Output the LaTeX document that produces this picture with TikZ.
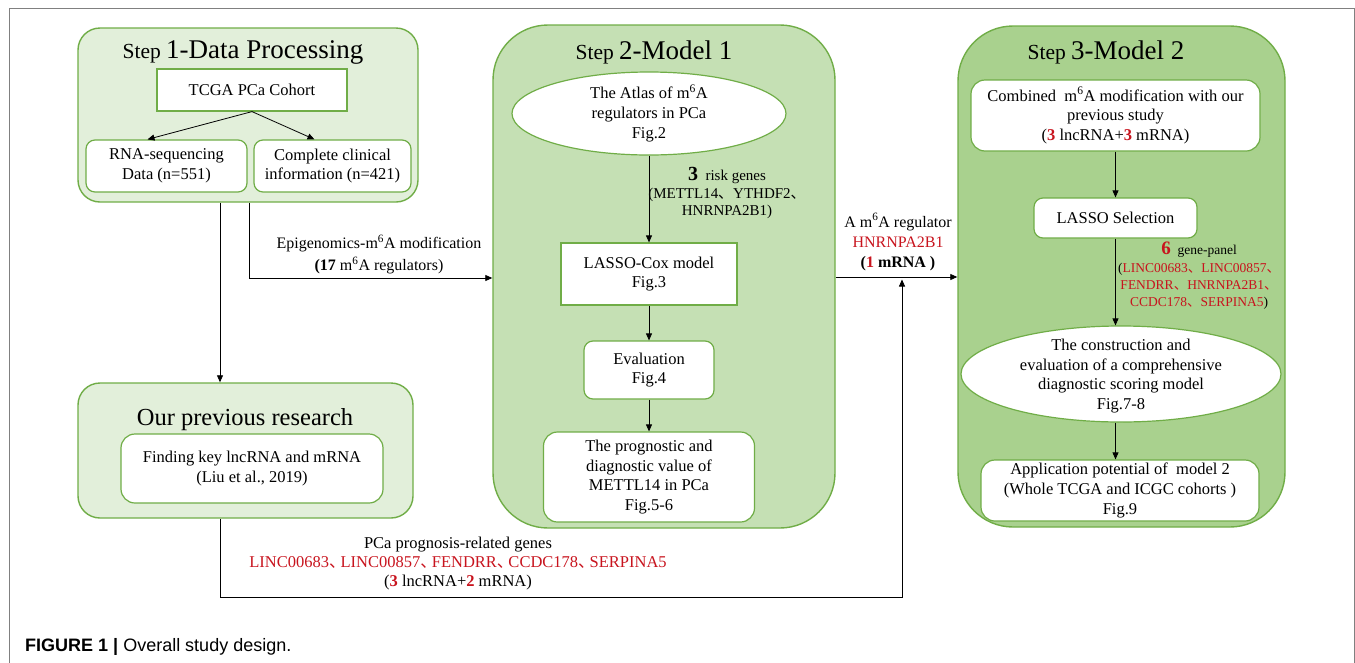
\documentclass[tikz,border=0pt]{standalone}
\usepackage{fontspec}
\setmainfont{Liberation Serif}
\newfontfamily\capfont{Liberation Sans}
\newfontfamily\cjkfont{Noto Sans CJK SC}
\usetikzlibrary{shapes.geometric,arrows.meta}
\definecolor{gborder}{RGB}{112,173,71}
\definecolor{fillA}{RGB}{226,239,218}
\definecolor{fillB}{RGB}{197,224,180}
\definecolor{fillC}{RGB}{169,209,142}
\definecolor{txtred}{RGB}{200,20,30}
\definecolor{framegray}{RGB}{128,128,128}
\newcommand{\dn}{\makebox[1em][l]{\cjkfont 、}}
\newcommand{\dnb}{\makebox[0.7em][l]{\cjkfont 、}}
\newcommand{\sixA}{m\textsuperscript{6}A}
\newcommand{\rb}[1]{{\color{txtred}\bfseries #1}}
\newcommand{\myBody}{\fontsize{16.5}{19.7}\selectfont}
\tikzset{
  panel/.style={draw=gborder, line width=1.4pt, inner sep=0pt},
  wbox/.style={draw=gborder, line width=1.2pt, fill=white, align=center, inner sep=0pt, font=\myBody},
  rbox/.style={wbox, rounded corners=9pt},
  ebox/.style={draw=gborder, line width=1.2pt, fill=white, ellipse, inner sep=0pt},
  lbl/.style={align=center, inner sep=0pt},
  arr/.style={-{Triangle[length=7pt,width=6pt]}, line width=0.8pt, black},
}
\begin{document}
\begin{tikzpicture}[x=1pt,y=-1pt]
\useasboundingbox (0,0) rectangle (1355,662);
% outer frame
\draw[framegray, line width=1pt] (9,690) -- (9,8) -- (1354,8) -- (1354,690);

% ---------- Step 1 ----------
\node[panel, fill=fillA, rounded corners=22pt, minimum width=340pt, minimum height=174pt] (s1) at (248,115) {};
\node[anchor=base, inner sep=0pt] (t1) at (243,58) {\fontsize{21.5}{24}\selectfont Step \fontsize{27}{30}\selectfont 1-Data Processing};
\node[wbox, minimum width=190pt, minimum height=42pt] (tcga) at (252,90) {TCGA PCa Cohort};
\node[rbox, minimum width=161pt, minimum height=52pt] (rna) at (166.5,166) {RNA-sequencing\\Data (n=551)};
\node[rbox, minimum width=157pt, minimum height=52pt] (clin) at (332.5,166) {Complete clinical\\information (n=421)};
\draw[arr] (tcga.south) -- ([xshift=-19pt]rna.north);
\draw[arr] (tcga.south) -- ([xshift=-18pt]clin.north);

% ---------- Our previous research ----------
\node[panel, fill=fillA, rounded corners=22pt, minimum width=335pt, minimum height=135pt] (prev) at (245.5,450.5) {};
\node[anchor=base, inner sep=0pt] (tprev) at (245,425) {\fontsize{24.5}{28}\selectfont Our previous research};
\node[rbox, rounded corners=14pt, minimum width=262pt, minimum height=69pt] (find) at (252,468.5) {Finding key lncRNA and mRNA\\(Liu et al., 2019)};

% ---------- Step 2 ----------
\node[panel, fill=fillB, rounded corners=55pt, minimum width=342pt, minimum height=503pt] (s2) at (664,276.5) {};
\node[anchor=base, inner sep=0pt] (t2) at (654,59) {\fontsize{21.5}{24}\selectfont Step \fontsize{27}{30}\selectfont 2-Model 1};
\node[ebox, minimum width=274pt, minimum height=83pt] (e1) at (649,113.5) {};
\node[lbl, font=\myBody] (e1txt) at (e1.center) {The Atlas of \sixA\\regulators in PCa\\Fig.2};
\node[wbox, minimum width=176pt, minimum height=62pt] (lc) at (649,274) {LASSO-Cox model\\Fig.3};
\node[rbox, minimum width=130pt, minimum height=58pt] (ev) at (649,370) {Evaluation\\Fig.4};
\node[rbox, rounded corners=14pt, minimum width=211pt, minimum height=90pt] (pv) at (649,477) {The prognostic and\\diagnostic value of\\METTL14 in PCa\\Fig.5-6};
\draw[arr] (e1.south) -- (lc.north);
\draw[arr] (lc.south) -- (ev.north);
\draw[arr] (ev.south) -- (pv.north);
\node[lbl, font=\fontsize{15}{17.5}\selectfont] (risk) at (727,193) {{\fontsize{20}{17.5}\selectfont\bfseries 3}~~risk genes\\(METTL14\dn YTHDF2\dn\\HNRNPA2B1)};

% ---------- Step 3 ----------
\node[panel, fill=fillC, rounded corners=55pt, minimum width=327pt, minimum height=501pt] (s3) at (1121.5,276.5) {};
\node[anchor=base, inner sep=0pt] (t3) at (1106,59) {\fontsize{21.5}{24}\selectfont Step \fontsize{27}{30}\selectfont 3-Model 2};
\node[rbox, rounded corners=14pt, minimum width=289pt, minimum height=71pt] (comb) at (1115.5,115.5) {Combined\ \ \sixA{} modification with our\\previous study\\(\rb{3} lncRNA+\rb{3} mRNA)};
\node[rbox, minimum width=163pt, minimum height=40pt] (ls) at (1115.5,218) {LASSO Selection};
\node[ebox, minimum width=320pt, minimum height=96pt] (e3) at (1121,374) {};
\node[lbl, font=\myBody] (e3txt) at (1121,376) {The construction and\\evaluation of a comprehensive\\diagnostic scoring model\\Fig.7-8};
\node[rbox, rounded corners=14pt, minimum width=278pt, minimum height=61pt] (app) at (1120,490.5) {Application potential of~~model 2\\(Whole TCGA and ICGC cohorts )\\Fig.9};
\draw[arr] (comb.south -| ls.north) -- (ls.north);
\draw[arr] (ls.south) -- (ls.south |- e3.north);
\draw[arr] (e3.south -| ls.south) -- (app.north -| ls.south);
\node[lbl, font=\fontsize{13.5}{17.3}\selectfont] (panel6) at (1199,276) {{\fontsize{19}{17.3}\selectfont\rb{6}}~~gene-panel\\({\color{txtred}LINC00683\dn LINC00857\dn}\\{\color{txtred}FENDRR\dn HNRNPA2B1\dn}\\{\color{txtred}CCDC178\dn SERPINA5})};

% ---------- connectors between stages ----------
\coordinate (epi) at (249,278);
\coordinate (dnx) at (220,0);
\coordinate (hz) at (0,277);
\coordinate (lp) at (220,597);
\coordinate (up) at (902,597);
\coordinate (uptip) at (902,279.5);
\draw[arr] (s1.south -| dnx) -- (prev.north -| dnx);
\draw[arr] (s1.south -| epi) |- (epi -| s2.west);
\draw[arr] (s2.east |- hz) -- (s3.west |- hz);
\draw[arr] (prev.south -| lp) -- (lp) -- (up) -- (uptip);

\node[lbl, font=\fontsize{16}{22}\selectfont] (epilbl) at (379,254.5) {Epigenomics-\sixA{} modification\\{\bfseries (17} \sixA{} regulators)};
\node[lbl, font=\fontsize{16}{20}\selectfont] (reglbl) at (898,242) {A \sixA{} regulator\\{\color{txtred}HNRNPA2B1}\\{\bfseries ({\color{txtred}1} mRNA )}};
\node[lbl, font=\fontsize{16.5}{19}\selectfont] (botlbl) at (458,564) {PCa prognosis-related genes\\{\color{txtred}LINC00683\dnb LINC00857\dnb FENDRR\dnb CCDC178\dnb SERPINA5}\\(\rb{3} lncRNA+\rb{2} mRNA)};

% ---------- caption ----------
\node[anchor=base west, inner sep=0pt, font=\capfont\fontsize{18}{20}\selectfont] (cap) at (25,651) {\textbf{FIGURE 1 |} Overall study design.};
\end{tikzpicture}
\end{document}
